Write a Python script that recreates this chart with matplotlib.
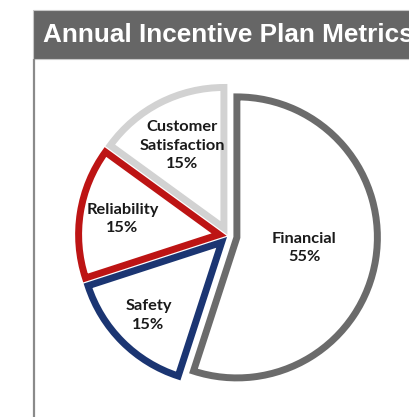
import numpy as np
import matplotlib.pyplot as plt
from matplotlib.patches import Rectangle

# ------------------------- data ------------------------------------
metrics = ['Financial', 'Safety', 'Reliability', 'Customer\nSatisfaction']
weights = [55, 15, 15, 15]
edge_colors = ['#6b6b6b', '#1b3572', '#bd1414', '#d2d2d2']
label_dist = [0.55, 0.80, 0.76, 0.72]
title = 'Annual Incentive Plan Metrics'
# ------------------------------------------------------------------------------------

W, H = 410, 417
fig = plt.figure(figsize=(W / 100, H / 100), dpi=100)
ax = fig.add_axes([0, 0, 1, 1])

# explode is in data units here (pixels)
cx, cy, rad = 228, H - 236, 140.5
wedges, _ = ax.pie(weights, startangle=90, counterclock=False,
                   explode=[9] * len(weights), radius=rad, center=(cx, cy),
                   colors=['white'] * len(weights),
                   wedgeprops=dict(linewidth=5.0, joinstyle='miter'))
for w, ec in zip(wedges, edge_colors):
    w.set_edgecolor(ec)

# labels at each wedge's mid angle
for w, name, pct, d in zip(wedges, metrics, weights, label_dist):
    th = np.deg2rad((w.theta1 + w.theta2) / 2)
    ax.text(cx + d * rad * np.cos(th), cy + d * rad * np.sin(th),
            name + '\n' + str(pct) + '%', ha='center', va='center',
            fontsize=11.8, fontweight='bold', family='Lato', color='#1a1a1a',
            linespacing=1.4)

ax.set_xlim(0, W)
ax.set_ylim(0, H)
ax.set_aspect('auto')
ax.axis('off')

# panel frame + header
ax.plot([34, 34], [0, H - 59], color='#8a8a8a', lw=1.6, solid_capstyle='butt')
ax.add_patch(Rectangle((33, H - 59), W, 49, facecolor='#666666', edgecolor='#c8c8c8', lw=0.8))
ax.text(43, H - 35, title, color='white', fontsize=18.8, fontweight='bold',
        family='Liberation Sans', va='center', ha='left', clip_on=True)

fig.savefig('out.png', dpi=100)
